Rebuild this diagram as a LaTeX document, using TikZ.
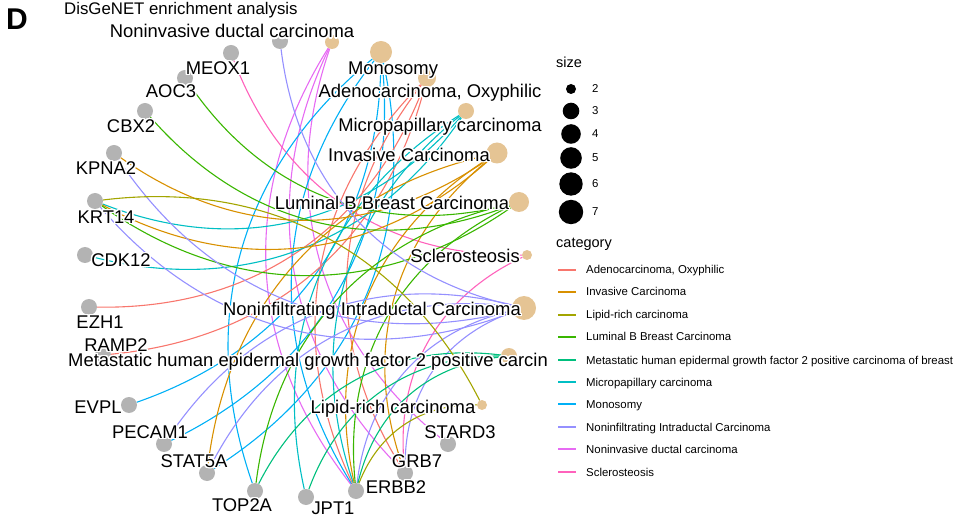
\documentclass[tikz,border=0pt]{standalone}
\usepackage{fontspec}
\setmainfont{Liberation Sans}
\usepackage[copies]{contour}
\usetikzlibrary{positioning,backgrounds}

\contourlength{1.4pt}

\definecolor{cAdeno}{HTML}{F8766D}
\definecolor{cInv}{HTML}{D89000}
\definecolor{cLipid}{HTML}{A3A500}
\definecolor{cLumB}{HTML}{39B600}
\definecolor{cMeta}{HTML}{00BF7D}
\definecolor{cMicro}{HTML}{00BFC4}
\definecolor{cMono}{HTML}{00B0F6}
\definecolor{cNinf}{HTML}{9590FF}
\definecolor{cNinv}{HTML}{E76BF3}
\definecolor{cScl}{HTML}{FF62BC}
\definecolor{geneGrey}{HTML}{B3B3B3}
\definecolor{termTan}{HTML}{E5C494}

\newcommand{\halo}[1]{\contour{white}{#1}}

% arcs bend towards the middle of the network
\newdimen\nwAx \newdimen\nwAy \newdimen\nwBx \newdimen\nwBy \newdimen\nwCx \newdimen\nwCy
\newcommand{\netarc}[3]{%
  \pgfextractx{\nwAx}{\pgfpointanchor{#2}{center}}%
  \pgfextracty{\nwAy}{\pgfpointanchor{#2}{center}}%
  \pgfextractx{\nwBx}{\pgfpointanchor{#3}{center}}%
  \pgfextracty{\nwBy}{\pgfpointanchor{#3}{center}}%
  \pgfextractx{\nwCx}{\pgfpointanchor{hub}{center}}%
  \pgfextracty{\nwCy}{\pgfpointanchor{hub}{center}}%
  \pgfmathsetmacro{\arcside}{((\nwBx-\nwAx)/100)*((\nwCy-\nwAy)/100)-((\nwBy-\nwAy)/100)*((\nwCx-\nwAx)/100)}%
  \pgfmathsetmacro{\arcbend}{\arcside>0 ? 35 : -35}%
  \draw[link, #1] (#2) to[bend left=\arcbend] (#3);
}

\begin{document}
\begin{tikzpicture}[
  x=1pt, y=-1pt,
  gene/.style={circle, fill=geneGrey, inner sep=0pt, minimum size=16pt},
  term/.style={circle, fill=termTan, inner sep=0pt},
  nlabel/.style={anchor=base, inner sep=0pt, font=\fontsize{18.4}{20}\selectfont},
  link/.style={line width=1.1pt},
  keyhead/.style={anchor=base west, inner sep=0pt, font=\fontsize{14.5}{16}\selectfont},
  keytext/.style={anchor=base west, inner sep=0pt, font=\fontsize{11.4}{13}\selectfont}
]
\useasboundingbox (0,0) rectangle (955,518);

% === Panel letter and title ===
\node[anchor=base west, inner sep=0pt, font=\fontsize{30}{32}\selectfont\bfseries] (panel) at (6,30) {D};
\node[anchor=base west, inner sep=0pt, font=\fontsize{16.8}{18}\selectfont] (title) at (64,15) {DisGeNET enrichment analysis};

\coordinate (hub) at (306,269);

% === Gene nodes ===
\node[gene] (g0) at (280,41) {};
\node[gene] (meox) at (231,53) {};
\node[gene] (aoc) at (185,78) {};
\node[gene] (cbx) at (145,111) {};
\node[gene] (kpna) at (114,153) {};
\node[gene] (krt) at (95,201) {};
\node[gene] (cdk) at (85,255) {};
\node[gene] (ezh) at (89,307) {};
\node[gene] (ramp) at (103,355) {};
\node[gene] (evpl) at (129,405) {};
\node[gene] (pecam) at (164,444) {};
\node[gene] (stat) at (207,473) {};
\node[gene] (top) at (255,491) {};
\node[gene] (jpt) at (306,497) {};
\node[gene] (erbb) at (356,491) {};
\node[gene] (grb) at (405,473) {};
\node[gene] (stard) at (448,444) {};

% === Disease term nodes ===
\node[term, minimum size=14pt] (ninv) at (332,42) {};
\node[term, minimum size=22pt] (mono) at (381,52) {};
\node[term, minimum size=18pt] (adeno) at (427,78) {};
\node[term, minimum size=16pt] (micro) at (466,111) {};
\node[term, minimum size=21pt] (inv) at (497,153) {};
\node[term, minimum size=20pt] (lumb) at (519,202) {};
\node[term, minimum size=10pt] (scl) at (527,255) {};
\node[term, minimum size=24pt] (ninf) at (524,308) {};
\node[term, minimum size=16pt] (meta) at (509,356) {};
\node[term, minimum size=10pt] (lipid) at (482,405) {};

% === Gene-term arcs ===
\begin{pgfonlayer}{background}
\netarc{cNinv}{ninv}{erbb}
\netarc{cNinv}{ninv}{grb}
\netarc{cNinv}{ninv}{stard}
\netarc{cScl}{scl}{meox}
\netarc{cScl}{scl}{grb}
\netarc{cMono}{mono}{evpl}
\netarc{cMono}{mono}{pecam}
\netarc{cMono}{mono}{top}
\netarc{cMono}{mono}{stat}
\netarc{cMono}{mono}{erbb}
\netarc{cAdeno}{adeno}{ezh}
\netarc{cAdeno}{adeno}{ramp}
\netarc{cAdeno}{adeno}{erbb}
\netarc{cAdeno}{adeno}{grb}
\netarc{cMicro}{micro}{cdk}
\netarc{cMicro}{micro}{krt}
\netarc{cMicro}{micro}{jpt}
\netarc{cMicro}{micro}{erbb}
\netarc{cInv}{inv}{kpna}
\netarc{cInv}{inv}{krt}
\netarc{cInv}{inv}{stat}
\netarc{cInv}{inv}{erbb}
\netarc{cInv}{inv}{grb}
\netarc{cLumB}{lumb}{aoc}
\netarc{cLumB}{lumb}{cbx}
\netarc{cLumB}{lumb}{krt}
\netarc{cLumB}{lumb}{top}
\netarc{cLumB}{lumb}{erbb}
\netarc{cNinf}{ninf}{g0}
\netarc{cNinf}{ninf}{kpna}
\netarc{cNinf}{ninf}{krt}
\netarc{cNinf}{ninf}{pecam}
\netarc{cNinf}{ninf}{stat}
\netarc{cNinf}{ninf}{erbb}
\netarc{cNinf}{ninf}{grb}
\netarc{cMeta}{meta}{top}
\netarc{cMeta}{meta}{jpt}
\netarc{cMeta}{meta}{erbb}
\netarc{cLipid}{lipid}{krt}
\netarc{cLipid}{lipid}{erbb}
\end{pgfonlayer}

% === Gene labels ===
\node[nlabel] (lmeox) at (218,74.5) {\halo{MEOX1}};
\node[nlabel] (laoc) at (171,97.5) {\halo{AOC3}};
\node[nlabel] (lcbx) at (131,132.5) {\halo{CBX2}};
\node[nlabel] (lkpna) at (106,174.5) {\halo{KPNA2}};
\node[nlabel] (lkrt) at (106,223.5) {\halo{KRT14}};
\node[nlabel] (lcdk) at (121,266.5) {\halo{CDK12}};
\node[nlabel] (lezh) at (100,328.5) {\halo{EZH1}};
\node[nlabel] (lramp) at (116,351.5) {\halo{RAMP2}};
\node[nlabel] (levpl) at (98,413.5) {\halo{EVPL}};
\node[nlabel] (lpecam) at (150,438.5) {\halo{PECAM1}};
\node[nlabel] (lstat) at (194,467.5) {\halo{STAT5A}};
\node[nlabel] (ltop) at (242,511.5) {\halo{TOP2A}};
\node[nlabel] (ljpt) at (333,514.5) {\halo{JPT1}};
\node[nlabel] (lerbb) at (396,493.5) {\halo{ERBB2}};
\node[nlabel] (lgrb) at (417,467.5) {\halo{GRB7}};
\node[nlabel] (lstard) at (460,438.5) {\halo{STARD3}};

% === Term labels ===
\node[nlabel] (lninv) at (232,38) {\halo{Noninvasive ductal carcinoma}};
\node[nlabel] (lmono) at (393,74.5) {\halo{Monosomy}};
\node[nlabel] (ladeno) at (430,97.5) {\halo{Adenocarcinoma, Oxyphilic}};
\node[nlabel] (lmicro) at (440,131.5) {\halo{Micropapillary carcinoma}};
\node[nlabel] (linv) at (409,161.5) {\halo{Invasive Carcinoma}};
\node[nlabel] (llumb) at (392,209.5) {\halo{Luminal B Breast Carcinoma}};
\node[nlabel] (lscl) at (465,262.5) {\halo{Sclerosteosis}};
\node[nlabel] (lninf) at (372,315.5) {\halo{Noninfiltrating Intraductal Carcinoma}};
\node[nlabel, anchor=base west] (lmeta) at (68,366.5) {\halo{Metastatic human epidermal growth factor 2 positive carcin}};
\node[nlabel] (llipid) at (393,413.5) {\halo{Lipid-rich carcinoma}};

% === Size legend ===
\node[keyhead] (sizehead) at (556,68) {size};
\foreach \s/\r/\yy in {2/5/89, 3/8.3/111, 4/9.8/134, 5/10.8/158, 6/11.7/184, 7/12.2/212} {
  \node[circle, fill=black, inner sep=0pt, minimum size=2*\r pt] (dot\s) at (571,\yy) {};
  \node[keytext] (dotlbl\s) at (592,\yy+4) {\s};
}

% === Category legend ===
\node[keyhead] (cathead) at (556,248) {category};
\foreach \col/\yy/\name in {cAdeno/270/{Adenocarcinoma, Oxyphilic}, cInv/292/Invasive Carcinoma,
    cLipid/315/Lipid-rich carcinoma, cLumB/337/Luminal B Breast Carcinoma,
    cMeta/360/Metastatic human epidermal growth factor 2 positive carcinoma of breast,
    cMicro/382/Micropapillary carcinoma, cMono/404/Monosomy, cNinf/427/Noninfiltrating Intraductal Carcinoma,
    cNinv/449/Noninvasive ductal carcinoma, cScl/472/Sclerosteosis} {
  \coordinate (keya\yy) at (558,\yy);
  \coordinate (keyb\yy) at (576,\yy);
  \draw[\col, line width=2pt] (keya\yy) -- (keyb\yy);
  \node[keytext] (keylbl\yy) at (586,\yy+4) {\name};
}

\end{tikzpicture}
\end{document}
